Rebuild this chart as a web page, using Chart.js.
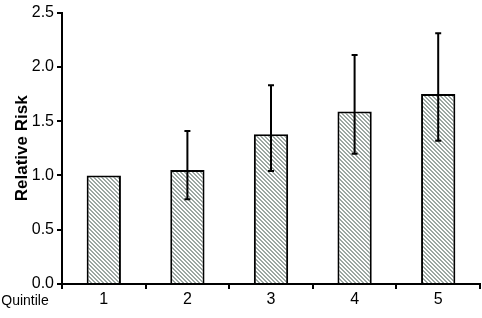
<!DOCTYPE html>
<html>
<head>
<meta charset="utf-8">
<script src="https://cdn.jsdelivr.net/npm/chart.js@4/dist/chart.umd.min.js"></script>
<style>
body { margin: 0; background: #fff; }
</style>
</head>
<body>
<canvas id="mycanvas" width="482" height="318"></canvas>
<script>
var quintiles = ['1', '2', '3', '4', '5'];
var relRisk = [1.0, 1.05, 1.38, 1.59, 1.75];
var ciLow = [null, 0.78, 1.04, 1.20, 1.32];
var ciHigh = [null, 1.41, 1.83, 2.11, 2.31];

var fontFam = '"Liberation Sans", Arial, sans-serif';

// diagonal hatch fill like the original
function makeHatch() {
	var c = document.createElement('canvas');
	c.width = 4; c.height = 4;
	var g = c.getContext('2d');
	var img = g.createImageData(4, 4);
	for (var y = 0; y < 4; y++) {
		for (var x = 0; x < 4; x++) {
			var k = (y * 4 + x) * 4;
			var grey = ((x - y + 8) % 4) < 2;
			img.data[k] = grey ? 156 : 255;
			img.data[k + 1] = grey ? 167 : 255;
			img.data[k + 2] = grey ? 162 : 255;
			img.data[k + 3] = 255;
		}
	}
	g.putImageData(img, 0, 0);
	return g.createPattern(c, 'repeat');
}

var errorBars = {
	id: 'errorBars',
	afterDatasetsDraw: function(chart) {
		var ctx = chart.ctx;
		var meta = chart.getDatasetMeta(0);
		var yScale = chart.scales.y;
		ctx.save();
		ctx.strokeStyle = '#000';
		ctx.lineWidth = 2;
		for (var i = 0; i < meta.data.length; i++) {
			if (ciLow[i] == null) continue;
			var x = meta.data[i].x;
			var yLo = yScale.getPixelForValue(ciLow[i]);
			var yHi = yScale.getPixelForValue(ciHigh[i]);
			ctx.beginPath();
			ctx.moveTo(x, yLo); ctx.lineTo(x, yHi);
			ctx.moveTo(x - 3, yLo); ctx.lineTo(x + 3, yLo);
			ctx.moveTo(x - 3, yHi); ctx.lineTo(x + 3, yHi);
			ctx.stroke();
		}
		ctx.restore();
	},
	afterDraw: function(chart) {
		var ctx = chart.ctx;
		ctx.save();
		ctx.fillStyle = '#000';
		ctx.font = '14px ' + fontFam;
		ctx.textAlign = 'center';
		ctx.textBaseline = 'middle';
		ctx.fillText('Quintile', 25, 301);
		ctx.restore();
	}
};

var ctx = document.getElementById('mycanvas');

var barGraph = new Chart(ctx, {
	type: 'bar',
	data: {
		labels: quintiles,
		datasets: [{
			label: 'Relative Risk',
			data: relRisk,
			backgroundColor: makeHatch(),
			borderColor: '#000',
			borderWidth: 2,
			barPercentage: 0.41,
			categoryPercentage: 1
		}]
	},
	options: {
		responsive: false,
		animation: false,
		layout: { padding: { top: 9, right: 2 } },
		plugins: { legend: { display: false }, tooltip: { enabled: false } },
		scales: {
			x: {
				grid: { display: true, offset: true, drawOnChartArea: false, drawTicks: true, tickLength: 5, color: '#000', lineWidth: 2 },
				border: { color: '#000', width: 2 },
				ticks: { color: '#000', padding: 1, font: { size: 16, family: fontFam } },
				afterFit: function(s) { s.height = 34; }
			},
			y: {
				min: 0,
				max: 2.5,
				grid: { display: true, drawOnChartArea: false, drawTicks: true, tickLength: 5, color: '#000', lineWidth: 2 },
				border: { color: '#000', width: 2 },
				ticks: {
					stepSize: 0.5,
					color: '#000',
					padding: 3,
					font: { size: 16, family: fontFam },
					callback: function(v) { return Number(v).toFixed(1); }
				},
				title: {
					display: true,
					text: 'Relative Risk',
					color: '#000',
					padding: { top: 12, bottom: 0 },
					font: { size: 17, weight: 'bold', family: fontFam }
				},
				afterFit: function(s) { s.width = 62; }
			}
		}
	},
	plugins: [errorBars]
});
</script>
</body>
</html>
